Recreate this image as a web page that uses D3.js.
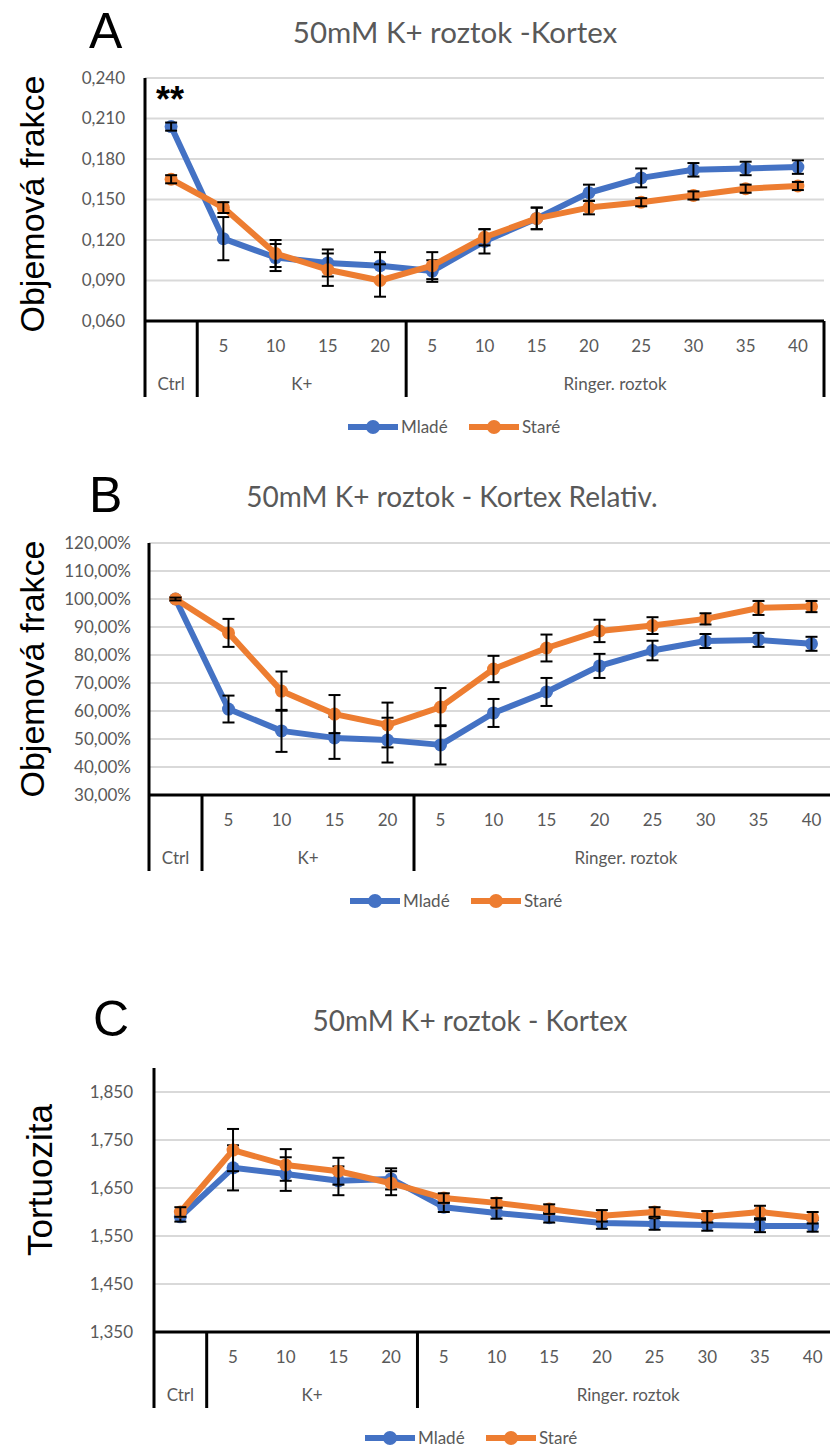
<!DOCTYPE html>
<html>
<head>
<meta charset="utf-8">
<script src="https://cdn.jsdelivr.net/npm/d3@7"></script>
<style>
  body { margin: 0; background: #fff; }
  svg { display: block; }
</style>
</head>
<body>
<div id="chart"></div>
<script>
// categories on the x axis (two levels)
const tickLabels = ["", "5", "10", "15", "20", "5", "10", "15", "20", "25", "30", "35", "40"];
const groupLabels = ["Ctrl", "K+", "Ringer. roztok"];
const groupSizes = [1, 4, 8];
const seriesNames = ["Mladé", "Staré"];

// A - objemova frakce
const aMlade    = [0.204, 0.121, 0.107, 0.103, 0.101, 0.097, 0.119, 0.136, 0.155, 0.166, 0.172, 0.173, 0.174];
const aMladeErr = [0.003, 0.016, 0.010, 0.010, 0.010, 0.008, 0.009, 0.008, 0.006, 0.007, 0.005, 0.005, 0.005];
const aStare    = [0.165, 0.144, 0.110, 0.098, 0.090, 0.101, 0.122, 0.136, 0.144, 0.148, 0.153, 0.158, 0.160];
const aStareErr = [0.003, 0.004, 0.010, 0.012, 0.012, 0.010, 0.006, 0.008, 0.005, 0.003, 0.003, 0.003, 0.003];

// B - relativni (%)
const bMlade    = [100, 60.7, 52.9, 50.4, 49.6, 47.9, 59.3, 66.8, 76.1, 81.6, 85.0, 85.4, 84.0];
const bMladeErr = [0.5, 4.8, 7.5, 7.5, 8.0, 7.0, 5.0, 5.0, 4.3, 3.5, 2.5, 2.5, 2.5];
const bStare    = [100, 87.9, 67.1, 58.9, 55.0, 61.4, 75.0, 82.5, 88.6, 90.5, 92.9, 96.8, 97.3];
const bStareErr = [0.5, 5.0, 7.0, 6.8, 8.0, 6.8, 4.7, 4.8, 4.0, 3.0, 2.0, 2.5, 2.0];

// C - tortuozita
const cMlade    = [1.590, 1.692, 1.679, 1.665, 1.669, 1.610, 1.598, 1.588, 1.577, 1.575, 1.573, 1.571, 1.571];
const cMladeErr = [0.010, 0.047, 0.035, 0.030, 0.022, 0.010, 0.012, 0.010, 0.012, 0.012, 0.012, 0.013, 0.012];
const cStare    = [1.600, 1.729, 1.698, 1.685, 1.660, 1.629, 1.619, 1.606, 1.592, 1.600, 1.590, 1.600, 1.588];
const cStareErr = [0.010, 0.044, 0.033, 0.028, 0.025, 0.010, 0.010, 0.010, 0.012, 0.010, 0.012, 0.013, 0.012];

const aTicks = [0.06, 0.09, 0.12, 0.15, 0.18, 0.21, 0.24];
const bTicks = [30, 40, 50, 60, 70, 80, 90, 100, 110, 120];
const cTicks = [1.35, 1.45, 1.55, 1.65, 1.75, 1.85];

const colors = ["#4472C4", "#ED7D31"];
const gray = "#595959";
const labelFont = "Lato, 'Open Sans', sans-serif";
const bigFont = "'Liberation Sans', Arial, sans-serif";

const width = 830, height = 1448;

const svg = d3.select("#chart").append("svg")
  .attr("width", width)
  .attr("height", height);

function drawPanel(p) {
  const g = svg.append("g");

  const x = d3.scaleBand()
    .domain(d3.range(tickLabels.length))
    .range([p.left, p.right])
    .padding(0);
  const y = d3.scaleLinear().domain(p.domain).range([p.bottom, p.top]);
  const cx = i => x(i) + x.bandwidth() / 2;

  // gridlines
  g.append("g")
    .selectAll("line")
    .data(p.ticks.slice(1))
    .join("line")
    .attr("x1", p.left).attr("x2", p.right)
    .attr("y1", d => y(d)).attr("y2", d => y(d))
    .attr("stroke", "#d9d9d9")
    .attr("stroke-width", 2);

  // y axis
  const yAxis = g.append("g")
    .attr("transform", `translate(${p.left},0)`)
    .call(d3.axisLeft(y).tickValues(p.ticks).tickSize(0).tickPadding(p.tickPad).tickFormat(p.fmt));
  yAxis.select(".domain").remove();
  yAxis.selectAll("text")
    .attr("fill", gray)
    .style("font-family", labelFont)
    .style("font-size", p.yFont + "px");

  g.append("line")
    .attr("x1", p.left).attr("x2", p.left)
    .attr("y1", y(p.domain[1])).attr("y2", p.bottom + 76)
    .attr("stroke", "#000").attr("stroke-width", 3);

  // x axis (two levels)
  g.append("line")
    .attr("x1", p.left).attr("x2", p.right)
    .attr("y1", p.bottom).attr("y2", p.bottom)
    .attr("stroke", "#000").attr("stroke-width", 3);

  g.append("g")
    .selectAll("text")
    .data(tickLabels)
    .join("text")
    .attr("x", (d, i) => cx(i))
    .attr("y", p.bottom + 25)
    .attr("dy", "0.35em")
    .attr("text-anchor", "middle")
    .attr("fill", gray)
    .style("font-family", labelFont)
    .style("font-size", "17px")
    .text(d => d);

  let start = 0;
  const groups = groupLabels.map((name, k) => {
    const gr = { name, from: start, to: start + groupSizes[k] };
    start += groupSizes[k];
    return gr;
  });

  g.append("g")
    .selectAll("line")
    .data(groups)
    .join("line")
    .attr("x1", d => x(d.to - 1) + x.bandwidth())
    .attr("x2", d => x(d.to - 1) + x.bandwidth())
    .attr("y1", p.bottom).attr("y2", p.bottom + 76)
    .attr("stroke", "#000").attr("stroke-width", 3);

  g.append("g")
    .selectAll("text")
    .data(groups)
    .join("text")
    .attr("x", d => (x(d.from) + x(d.to - 1) + x.bandwidth()) / 2)
    .attr("y", p.bottom + 63)
    .attr("dy", "0.35em")
    .attr("text-anchor", "middle")
    .attr("fill", gray)
    .style("font-family", labelFont)
    .style("font-size", "17px")
    .text(d => d.name);

  // series
  const line = d3.line().x((d, i) => cx(i)).y(d => y(d));
  p.series.forEach((s, k) => {
    const sg = g.append("g");
    sg.append("path")
      .datum(s.values)
      .attr("fill", "none")
      .attr("stroke", colors[k])
      .attr("stroke-width", 6)
      .attr("stroke-linejoin", "round")
      .attr("d", line);
    sg.selectAll("circle")
      .data(s.values)
      .join("circle")
      .attr("cx", (d, i) => cx(i))
      .attr("cy", d => y(d))
      .attr("r", 6.5)
      .attr("fill", colors[k]);
    const eb = sg.append("g").attr("stroke", "#000").attr("stroke-width", 2);
    s.values.forEach((v, i) => {
      const e = s.err[i];
      eb.append("line").attr("x1", cx(i)).attr("x2", cx(i)).attr("y1", y(v - e)).attr("y2", y(v + e));
      eb.append("line").attr("x1", cx(i) - 6).attr("x2", cx(i) + 6).attr("y1", y(v - e)).attr("y2", y(v - e));
      eb.append("line").attr("x1", cx(i) - 6).attr("x2", cx(i) + 6).attr("y1", y(v + e)).attr("y2", y(v + e));
    });
  });

  // titles
  g.append("text")
    .attr("x", p.letterX).attr("y", p.titleY + 5)
    .style("font-family", bigFont)
    .style("font-size", "50px")
    .attr("fill", "#000")
    .text(p.letter);

  g.append("text")
    .attr("x", p.titleX).attr("y", p.titleY)
    .attr("text-anchor", "middle")
    .attr("fill", gray)
    .style("font-family", labelFont)
    .style("font-size", p.titleFont + "px")
    .text(p.title);

  g.append("text")
    .attr("transform", `translate(${p.yTitleX},${p.yTitleY}) rotate(-90)`)
    .attr("text-anchor", "middle")
    .attr("fill", "#000")
    .style("font-family", bigFont)
    .style("font-size", p.yTitleFont + "px")
    .text(p.yTitle);

  // legend
  const lg = g.append("g").attr("transform", `translate(${p.legendX},${p.bottom + 106})`);
  const offs = [0, 121];
  seriesNames.forEach((name, k) => {
    const it = lg.append("g").attr("transform", `translate(${offs[k]},0)`);
    it.append("line").attr("x1", 0).attr("x2", 50).attr("y1", 0).attr("y2", 0)
      .attr("stroke", colors[k]).attr("stroke-width", 6);
    it.append("circle").attr("cx", 25).attr("cy", 0).attr("r", 7).attr("fill", colors[k]);
    it.append("text").attr("x", 53).attr("y", 0).attr("dy", "0.35em")
      .attr("fill", gray)
      .style("font-family", labelFont)
      .style("font-size", "17px")
      .text(name);
  });

  return g;
}

const comma = f => v => f(v).replace(".", ",");

const gA = drawPanel({
  letter: "A", letterX: 89, title: "50mM K+ roztok -Kortex", titleX: 455, titleY: 43, titleFont: 29.5,
  yTitle: "Objemová frakce", yTitleX: 44, yTitleY: 204, yTitleFont: 34,
  left: 145, right: 824, top: 78, bottom: 321, domain: [0.06, 0.24], ticks: aTicks,
  fmt: comma(d3.format(".3f")), tickPad: 20, yFont: 17, legendX: 348,
  series: [{ values: aMlade, err: aMladeErr }, { values: aStare, err: aStareErr }]
});

gA.append("text")
  .attr("x", 156).attr("y", 112)
  .style("font-family", bigFont)
  .style("font-size", "36px")
  .style("font-weight", "bold")
  .attr("fill", "#000")
  .text("**");

drawPanel({
  letter: "B", letterX: 89, title: "50mM K+ roztok - Kortex Relativ.", titleX: 452, titleY: 507, titleFont: 28,
  yTitle: "Objemová frakce", yTitleX: 44, yTitleY: 669, yTitleFont: 34,
  left: 149, right: 838, top: 543, bottom: 795, domain: [30, 120], ticks: bTicks,
  fmt: v => d3.format(".2f")(v).replace(".", ",") + "%", tickPad: 18, yFont: 17, legendX: 350,
  series: [{ values: bMlade, err: bMladeErr }, { values: bStare, err: bStareErr }]
});

drawPanel({
  letter: "C", letterX: 93, title: "50mM K+ roztok - Kortex", titleX: 470, titleY: 1031, titleFont: 28,
  yTitle: "Tortuozita", yTitleX: 52, yTitleY: 1180, yTitleFont: 35,
  left: 154, right: 839, top: 1068, bottom: 1332, domain: [1.35, 1.90], ticks: cTicks,
  fmt: comma(d3.format(".3f")), tickPad: 21, yFont: 17, legendX: 365,
  series: [{ values: cMlade, err: cMladeErr }, { values: cStare, err: cStareErr }]
});
</script>
</body>
</html>
